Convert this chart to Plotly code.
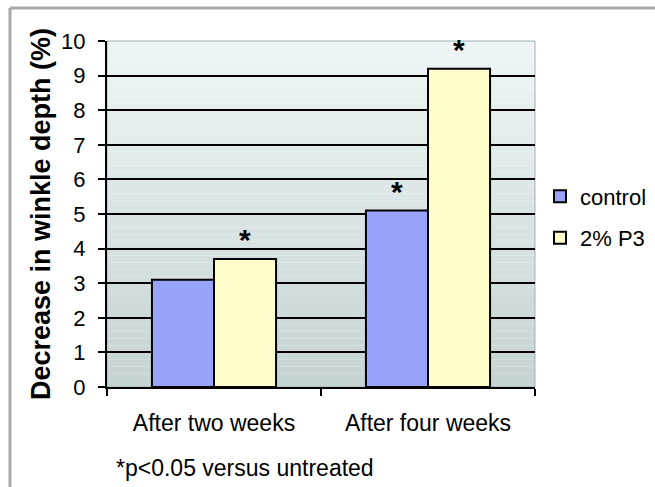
import plotly.graph_objects as go

# Data
categories = ["After two weeks", "After four weeks"]
control = [3.1, 5.1]
p3 = [3.7, 9.2]
control_marks = ["", "<b>*</b>"]
p3_marks = ["<b>*</b>", "<b>*</b>"]
y_ticks = list(range(0, 11))

FONT = "Liberation Sans, Arial, sans-serif"
W, H = 655, 487
L, R, T, B = 107, 120, 41, 100
PW, PH = W - L - R, H - T - B

fig = go.Figure()
fig.add_trace(go.Bar(
    name="control", x=categories, y=control, legendgroup="a",
    marker=dict(color="#99A3FA", line=dict(color="black", width=2)),
    text=control_marks, textposition="outside",
    textfont=dict(size=30, color="black", family=FONT),
    cliponaxis=False,
))
fig.add_trace(go.Bar(
    name="2% P3", x=categories, y=p3, legendgroup="b",
    marker=dict(color="#FFFDCC", line=dict(color="black", width=2)),
    text=p3_marks, textposition="outside",
    textfont=dict(size=30, color="black", family=FONT),
    cliponaxis=False,
))

# vertical gradient behind the plot area
shapes = []
n = 50
top_c = (239, 245, 245)
bot_c = (198, 211, 211)
for i in range(n):
    f = i / (n - 1)
    c = tuple(round(bot_c[k] + (top_c[k] - bot_c[k]) * f) for k in range(3))
    shapes.append(dict(type="rect", xref="x domain", yref="y domain",
                       x0=0, x1=1, y0=i / n, y1=(i + 1) / n,
                       fillcolor="rgb(%d,%d,%d)" % c, line=dict(width=0),
                       layer="below"))
# thin frame on the plot area
shapes.append(dict(type="rect", xref="x domain", yref="y domain",
                   x0=0, x1=1, y0=0, y1=1,
                   line=dict(color="#9FB3B8", width=1), layer="below"))
# outer grey frame
fx0 = (10 - L) / PW
fy0 = 1 + (T - 8) / PH
shapes.append(dict(type="line", xref="paper", yref="paper",
                   x0=fx0, x1=1.4, y0=fy0, y1=fy0,
                   line=dict(color="#A9A9A9", width=3)))
shapes.append(dict(type="line", xref="paper", yref="paper",
                   x0=fx0, x1=fx0, y0=fy0, y1=-0.4,
                   line=dict(color="#A9A9A9", width=3)))

fig.update_layout(
    width=W, height=H,
    margin=dict(l=L, r=R, t=T, b=B, autoexpand=False),
    paper_bgcolor="white",
    plot_bgcolor="rgba(0,0,0,0)",
    barmode="group",
    bargap=0.42,
    bargroupgap=0,
    font=dict(family=FONT, color="black", size=23),
    shapes=shapes,
    showlegend=True,
    legend=dict(
        x=(540 - L) / PW, y=0.49, xanchor="left", yanchor="middle",
        font=dict(size=22, family=FONT),
        bgcolor="rgba(0,0,0,0)", borderwidth=0,
        traceorder="grouped", tracegroupgap=10, itemwidth=30,
    ),
    annotations=[dict(
        text="*p<0.05 versus untreated", xref="paper", yref="paper",
        x=(114 - L) / PW, y=-(468 - T - PH) / PH,
        xanchor="left", yanchor="middle", showarrow=False,
        font=dict(size=23, family=FONT),
    )],
)

fig.update_xaxes(
    showline=True, linecolor="black", linewidth=2,
    ticks="outside", tickson="boundaries", ticklen=7, tickwidth=2,
    tickcolor="black", showgrid=False, ticklabelstandoff=14,
)
fig.update_yaxes(
    range=[0, 10], tickvals=y_ticks,
    showline=True, linecolor="black", linewidth=2,
    ticks="outside", ticklen=7, tickwidth=2, tickcolor="black",
    showgrid=True, gridcolor="black", gridwidth=2,
    zeroline=False, ticklabelstandoff=8,
    tickfont=dict(size=22),
    title=dict(text="<b>Decrease in winkle depth (%)</b>",
               font=dict(size=27, family=FONT), standoff=3),
)

fig.write_html("out.html")
